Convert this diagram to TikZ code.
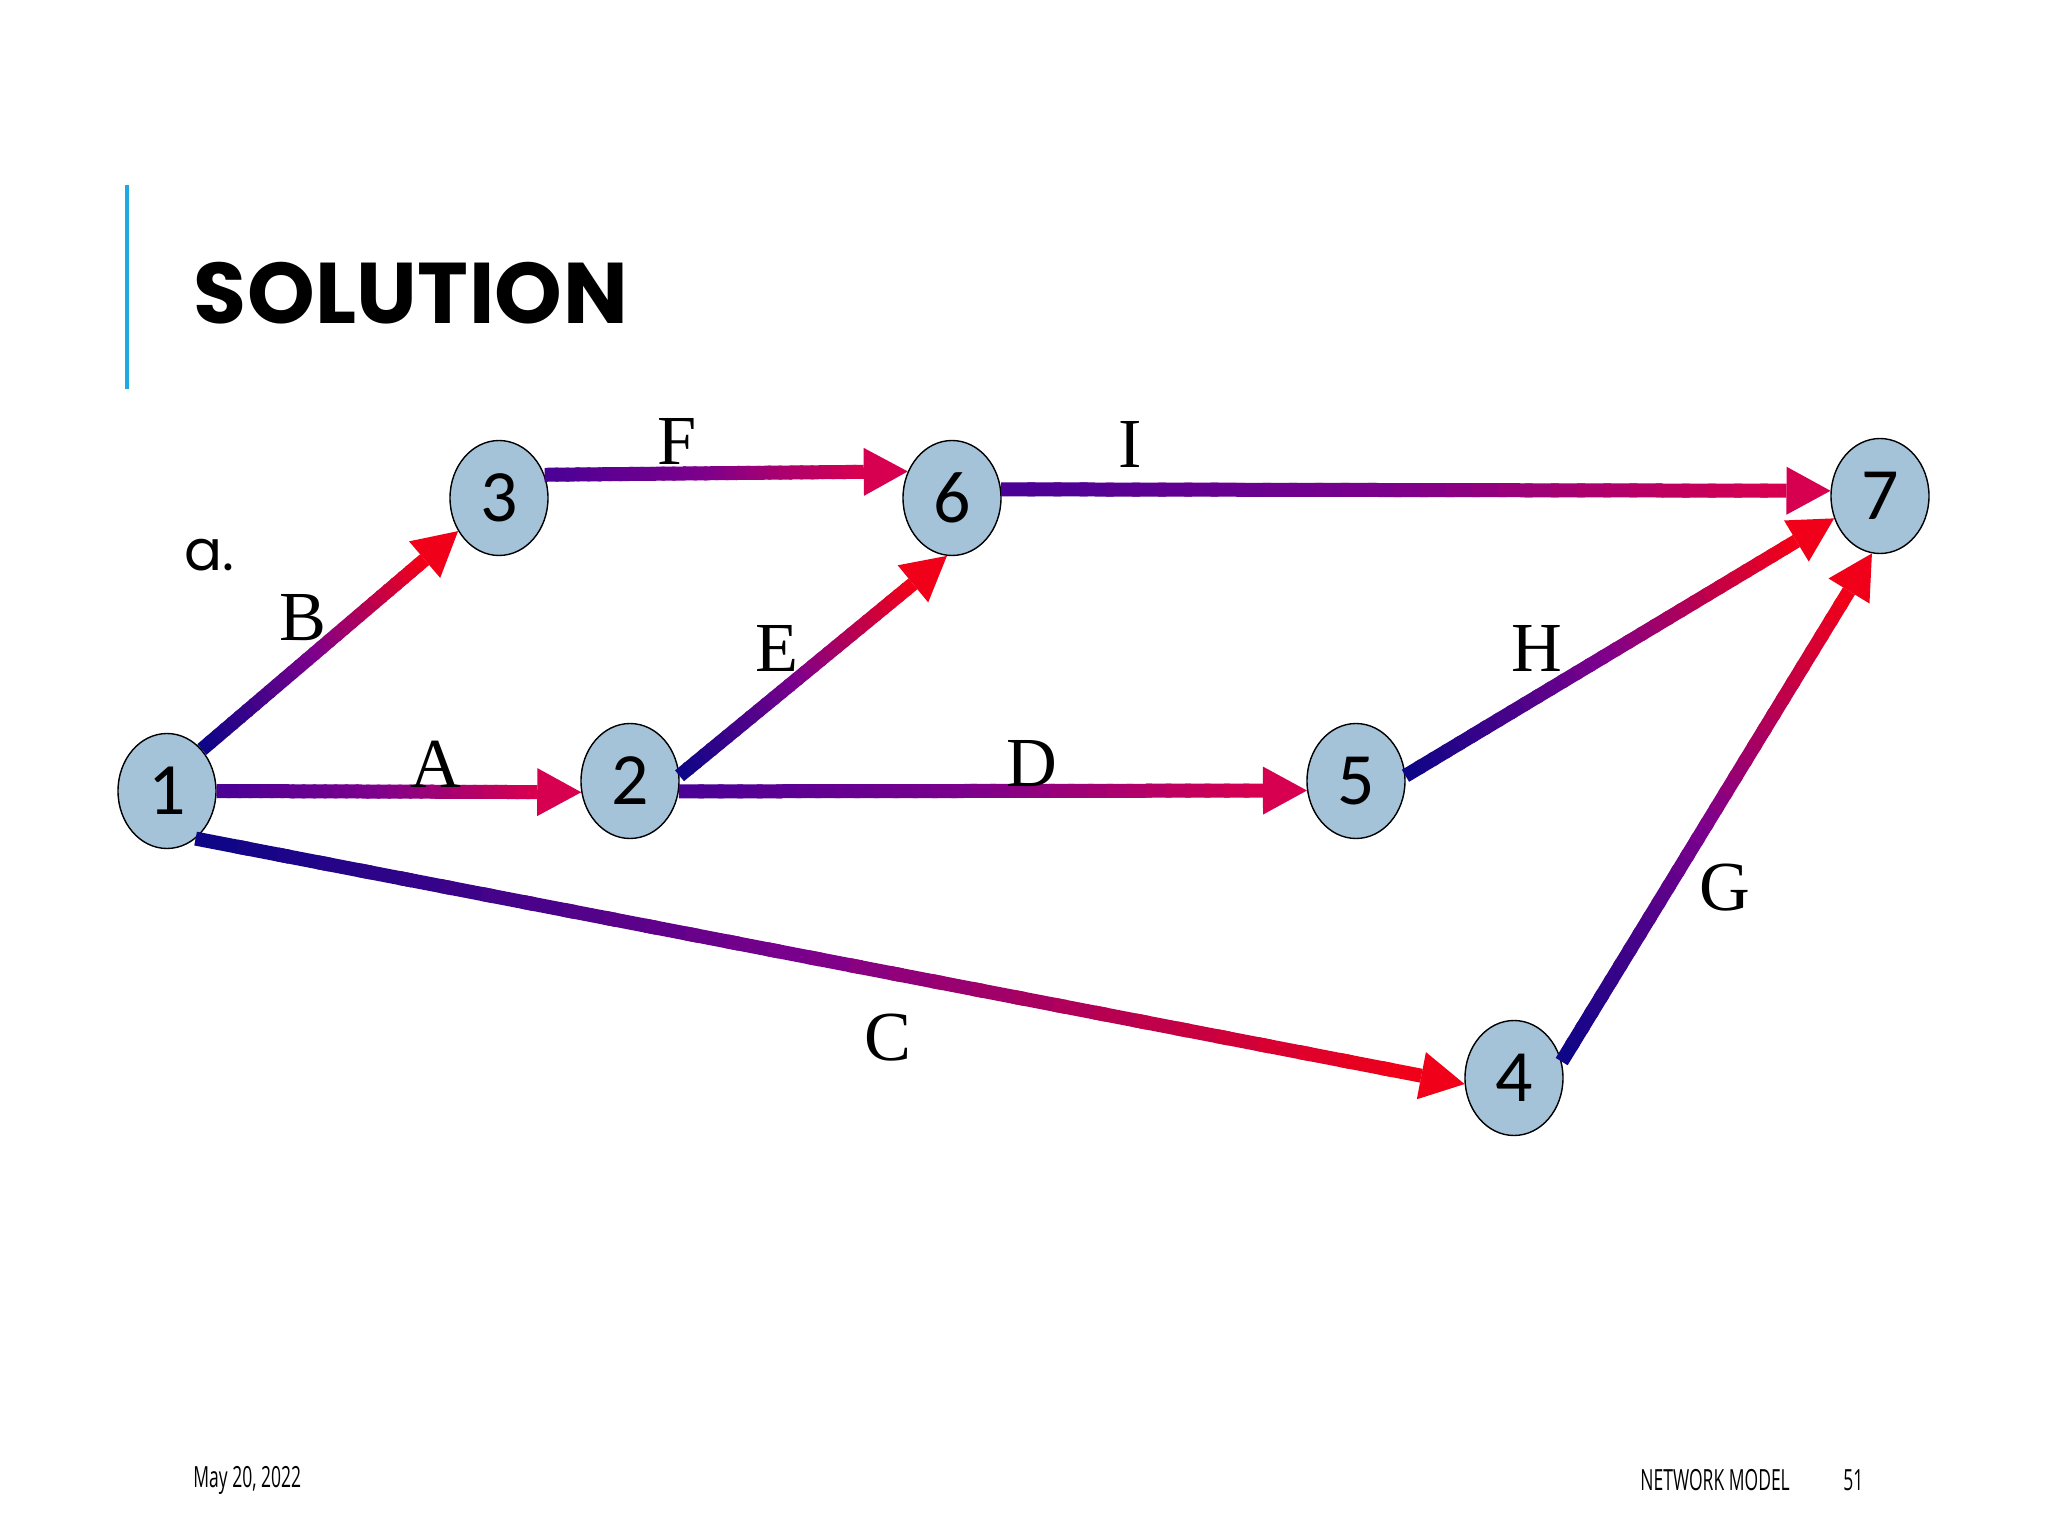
\documentclass[tikz,border=0pt]{standalone}
\usepackage{fontspec}
\usetikzlibrary{arrows.meta,calc,shapes.geometric}

\setmainfont{Liberation Serif}
\newfontfamily\headfont[LetterSpace=0.5]{Poppins}
\newfontfamily\bodyfont{Poppins}
\newfontfamily\numfont{Carlito}
\newfontfamily\footfont{Open Sans}

\definecolor{navyflow}{RGB}{15,5,135}
\definecolor{violetflow}{RGB}{75,0,150}
\definecolor{purpleflow}{RGB}{125,0,140}
\definecolor{redflow}{RGB}{240,0,25}
\definecolor{crimsonflow}{RGB}{215,0,80}
\definecolor{eventfill}{RGB}{164,194,216}
\definecolor{barblue}{RGB}{30,170,225}

\tikzset{
  event/.style={ellipse, draw=black, thin, fill=eventfill, minimum width=0.98cm,
    minimum height=1.15cm, inner sep=0pt, font=\numfont\fontsize{21}{21}\selectfont},
  actlabel/.style={inner sep=0pt, font=\fontsize{20}{20}\selectfont},
  footer/.style={anchor=west, inner sep=0pt, xscale=0.6, font=\footfont\fontsize{8.3}{8.3}\selectfont},
  flow/.style={line width=0.14cm},
}

% shaded arrow: #1 -> #2, colour #3 -> purple -> #4
\newcommand{\gradarrow}[4]{%
  \path (#1) coordinate (gs) (#2) coordinate (ge);
  \path ($(ge)!0.44cm!(gs)$) coordinate (gm);
  \foreach \k in {0,...,29}{
    \pgfmathsetmacro{\ta}{\k/30}
    \pgfmathsetmacro{\tb}{min((\k+1.3)/30,1)}
    \pgfmathtruncatemacro{\mix}{min(100*\k/14.5,100)}
    \pgfmathtruncatemacro{\mixb}{max(100*(\k-14.5)/14.5,0)}
    \ifnum\k<15
      \draw[flow, color=purpleflow!\mix!#3] ($(gs)!\ta!(gm)$) -- ($(gs)!\tb!(gm)$);
    \else
      \draw[flow, color=#4!\mixb!purpleflow] ($(gs)!\ta!(gm)$) -- ($(gs)!\tb!(gm)$);
    \fi
  }
  \fill[#4] (ge) -- ($(gm)!0.24cm!90:(ge)$) -- ($(gm)!0.24cm!-90:(ge)$) -- cycle;
}

\begin{document}
\begin{tikzpicture}

% page
\useasboundingbox (0,0) rectangle (20.48,-15.36);
\fill[white] (0,0) rectangle (20.48,-15.36);

% heading
\draw[barblue, line width=0.04cm] (1.27,-1.85) -- (1.27,-3.89);
\node[anchor=base west, inner sep=0pt, font=\headfont\bfseries\fontsize{24.5}{24.5}\selectfont] (title) at (1.93,-3.24) {SOLUTION};
\node[anchor=base west, inner sep=0pt, font=\bodyfont\fontsize{16}{16}\selectfont] (parta) at (1.84,-5.71) {a.};

% events
\node[event] (n1) at (1.67,-7.91) {1};
\node[event] (n2) at (6.30,-7.81) {2};
\node[event] (n3) at (4.99,-4.98) {3};
\node[event] (n6) at (9.52,-4.98) {6};
\node[event] (n7) at (18.80,-4.96) {7};
\node[event] (n5) at (13.56,-7.81) {5};
\node[event] (n4) at (15.14,-10.78) {4};

% activities
\gradarrow{n1.50}{n3.219}{navyflow}{redflow}
\gradarrow{n1.0}{n2.193}{violetflow}{crimsonflow}
\gradarrow{n1.301}{n4.187}{navyflow}{redflow}
\gradarrow{n3.27}{n6.149}{violetflow}{crimsonflow}
\gradarrow{n6.10}{n7.174}{violetflow}{crimsonflow}
\gradarrow{n2.6}{n6.265}{navyflow}{redflow}
\gradarrow{n2.348}{n5.191}{violetflow}{crimsonflow}
\gradarrow{n5.6}{n7.206}{navyflow}{redflow}
\gradarrow{n4.19}{n7.262}{navyflow}{redflow}

% activity labels
\node[actlabel] (lB) at (3.03,-6.18) {B};
\node[actlabel] (lA) at (4.36,-7.64) {A};
\node[actlabel] (lF) at (6.77,-4.41) {F};
\node[actlabel] (lI) at (11.30,-4.44) {I};
\node[actlabel] (lE) at (7.77,-6.48) {E};
\node[actlabel] (lD) at (10.32,-7.64) {D};
\node[actlabel] (lH) at (15.37,-6.48) {H};
\node[actlabel] (lG) at (17.25,-8.88) {G};
\node[actlabel] (lC) at (8.88,-10.38) {C};

% footer
\node[footer] (date) at (1.93,-14.80) {May 20, 2022};
\node[footer] (topic) at (16.40,-14.80) {NETWORK MODEL};
\node[footer] (page) at (18.43,-14.80) {51};

\end{tikzpicture}
\end{document}
